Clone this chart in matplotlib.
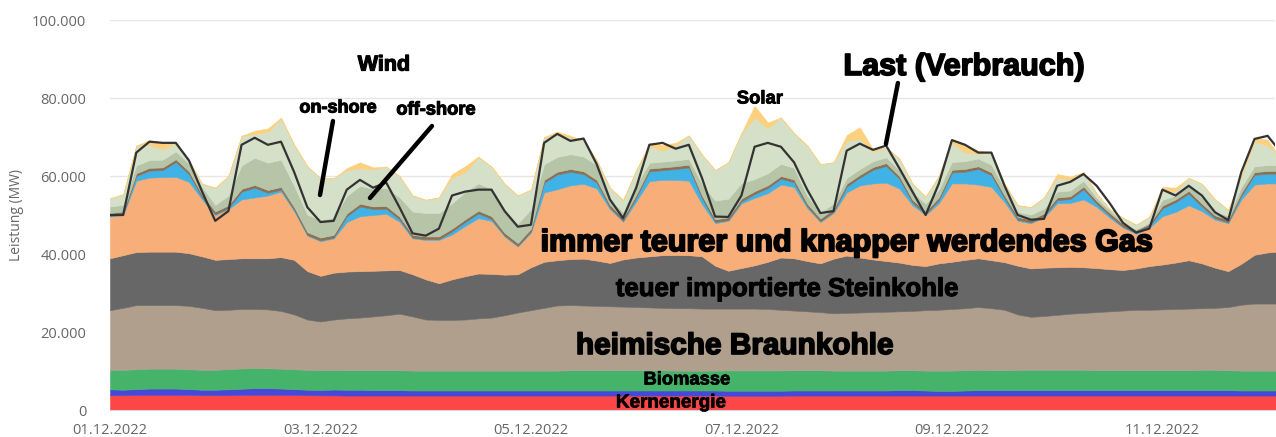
import numpy as np
import matplotlib
matplotlib.use("Agg")
import matplotlib.pyplot as plt
import matplotlib.patheffects as pe

# ---------------- data (3-hour samples) ----------------
stunden = list(range(0, 265, 3)) + [266]          # hours since 01.12.2022 00:00
datum_ticks = [0, 2, 4, 6, 8, 10]                   # days
datum_labels = ["01.12.2022", "03.12.2022", "05.12.2022",
                "07.12.2022", "09.12.2022", "11.12.2022"]
y_ticks = [0, 20000, 40000, 60000, 80000, 100000]
y_labels = ["0", "20.000", "40.000", "60.000", "80.000", "100.000"]

kernenergie = [3800, 3800, 3850, 3900, 3900, 3900, 3850, 3800, 3800, 3800,
               3850, 3900, 3900, 3900, 3850, 3800, 3750, 3750, 3700, 3700,
               3700, 3700, 3700, 3700, 3700, 3700, 3700, 3700, 3700, 3700,
               3700, 3700, 3700, 3700, 3700, 3700, 3700, 3700, 3700, 3700,
               3700, 3700, 3700, 3700, 3700, 3700, 3700, 3650, 3650, 3650,
               3650, 3650, 3700, 3700, 3700, 3700, 3700, 3700, 3700, 3700,
               3700, 3700, 3700, 3700, 3700, 3700, 3700, 3700, 3700, 3700,
               3700, 3700, 3700, 3700, 3700, 3700, 3700, 3700, 3700, 3700,
               3700, 3700, 3700, 3700, 3700, 3700, 3700, 3700, 3700, 3700]
laufwasser = [1500, 1400, 1500, 1600, 1600, 1600, 1500, 1400, 1400, 1500,
              1600, 1700, 1700, 1600, 1500, 1400, 1400, 1500, 1500, 1500,
              1400, 1400, 1400, 1300, 1300, 1300, 1300, 1300, 1300, 1300,
              1300, 1300, 1300, 1300, 1300, 1300, 1300, 1300, 1300, 1300,
              1300, 1300, 1300, 1300, 1300, 1300, 1300, 1300, 1300, 1300,
              1300, 1300, 1300, 1300, 1300, 1300, 1300, 1300, 1300, 1300,
              1400, 1400, 1300, 1200, 1200, 1300, 1400, 1400, 1400, 1400,
              1400, 1400, 1400, 1400, 1400, 1400, 1400, 1400, 1400, 1400,
              1400, 1400, 1400, 1400, 1400, 1400, 1300, 1300, 1300, 1300]
biomasse = [5000, 5100, 5100, 5100, 5100, 5100, 5100, 5100, 5100, 5200,
            5200, 5200, 5100, 5100, 5100, 5100, 5100, 5000, 5000, 5000,
            5100, 5100, 5100, 5100, 5100, 5100, 5100, 5100, 5100, 5100,
            5100, 5100, 5100, 5100, 5100, 5200, 5200, 5200, 5200, 5200,
            5200, 5200, 5200, 5100, 5100, 5100, 5100, 5200, 5200, 5200,
            5200, 5200, 5200, 5200, 5200, 5100, 5100, 5100, 5100, 5100,
            5100, 5100, 5100, 5200, 5200, 5200, 5200, 5100, 5100, 5200,
            5200, 5200, 5200, 5200, 5200, 5100, 5100, 5100, 5100, 5100,
            5100, 5100, 5100, 5200, 5200, 5100, 5100, 5100, 5100, 5100]
# upper edges of the big conventional blocks (cumulative levels)
braunkohle_oberkante = [25600, 26200, 26900, 26900, 26900, 26900, 26700, 26200, 25600, 25700,
                        25900, 25900, 25800, 25400, 24500, 23200, 22700, 23200, 23500, 23700,
                        24000, 24300, 24700, 24000, 23200, 23100, 23100, 23200, 23500, 23700,
                        24300, 25000, 25600, 26200, 26800, 26900, 26800, 26700, 26600, 26500,
                        26400, 26300, 26200, 26100, 26100, 26000, 26000, 26000, 26000, 26000,
                        25900, 25700, 25500, 25300, 25100, 24800, 24900, 25000, 25100, 25200,
                        25300, 25400, 25600, 25700, 25900, 26100, 26400, 26100, 25700, 24500,
                        23900, 24100, 24400, 24700, 24900, 25100, 25300, 25500, 25700, 25700,
                        25800, 25900, 26000, 26100, 26200, 26400, 27000, 27300, 27300, 27300]
steinkohle_oberkante = [38900, 39700, 40500, 40600, 40600, 40600, 40200, 39400, 38500, 38700,
                        38900, 38900, 38900, 39200, 38500, 35600, 34400, 35200, 35500, 35600,
                        35700, 35800, 35900, 34800, 33500, 32500, 33500, 34300, 35000, 34900,
                        34700, 34800, 36600, 38000, 38400, 38700, 38800, 38300, 37700, 38600,
                        39100, 39400, 39700, 39700, 39700, 39400, 37000, 35700, 36400, 37100,
                        38000, 39100, 38900, 38200, 37600, 38800, 39600, 39100, 38600, 38200,
                        37800, 37200, 36900, 37600, 38000, 38500, 38900, 38400, 37900, 37000,
                        36300, 36500, 36600, 36700, 36600, 36400, 36100, 35900, 36300, 36900,
                        37300, 37800, 38400, 37600, 36500, 35600, 37500, 39800, 40400, 40600]
erdgas_oberkante = [49600, 50000, 58800, 59600, 59700, 59800, 58500, 54000, 50000, 51500,
                    54000, 54500, 55000, 56000, 51000, 44700, 43300, 44000, 48200, 49700,
                    50000, 50300, 48300, 44000, 43600, 43600, 45000, 47200, 49200, 48500,
                    44500, 41900, 45500, 55800, 56600, 57600, 58000, 56800, 51500, 48300,
                    53500, 58700, 59000, 59000, 58800, 52800, 47900, 48500, 53000, 54400,
                    55600, 57800, 57200, 51800, 48200, 50500, 55800, 57600, 58100, 58300,
                    56800, 52500, 50000, 53000, 58100, 58100, 57800, 57200, 53300, 48500,
                    47900, 49400, 53000, 53100, 54000, 52100, 49300, 46800, 45200, 46700,
                    49700, 50800, 52500, 51000, 48800, 47900, 54000, 57800, 58100, 58100]
pumpspeicher = [200, 200, 1200, 1800, 1800, 3800, 2000, 500, 200, 300,
                2000, 2500, 700, 500, 300, 200, 200, 200, 1500, 2500,
                1500, 1300, 600, 200, 200, 200, 800, 1000, 1200, 500,
                200, 200, 300, 2500, 3800, 3500, 2500, 1500, 400, 200,
                1000, 2500, 2500, 2800, 3400, 1500, 300, 200, 500, 1000,
                1300, 1500, 1200, 400, 200, 300, 1500, 2000, 3500, 4300,
                2500, 700, 200, 800, 2800, 3000, 4000, 3000, 1000, 300,
                200, 300, 800, 1000, 2600, 800, 500, 200, 200, 300,
                2000, 2500, 3000, 1200, 400, 200, 1000, 2500, 2500, 2500]
sonstige = [700, 700, 700, 700, 700, 700, 700, 700, 700, 700,
            700, 700, 700, 700, 700, 700, 700, 700, 700, 700,
            700, 700, 700, 700, 700, 700, 700, 700, 700, 700,
            700, 700, 700, 700, 700, 700, 700, 700, 700, 700,
            700, 700, 700, 700, 700, 700, 700, 700, 700, 700,
            700, 700, 700, 700, 700, 700, 700, 700, 700, 700,
            700, 700, 700, 700, 700, 700, 700, 700, 700, 700,
            700, 700, 700, 700, 700, 700, 700, 700, 700, 700,
            700, 700, 700, 700, 700, 700, 700, 700, 700, 700]
wind_offshore = [1700, 1700, 2000, 2000, 2000, 2000, 2000, 2000, 1700, 2500,
                 6000, 7000, 7000, 7000, 5500, 4500, 4500, 4500, 4500, 4600,
                 4600, 4600, 5000, 6000, 6000, 6000, 6500, 7000, 7000, 7000,
                 6000, 5000, 5000, 4000, 3800, 3800, 3800, 3800, 1500, 1500,
                 2500, 1500, 1500, 1500, 1500, 3000, 4800, 4800, 4000, 3100,
                 3100, 3100, 3000, 2000, 1500, 1500, 1500, 1500, 1500, 1500,
                 1500, 2000, 2000, 2000, 2000, 2000, 2000, 2000, 1800, 1300,
                 1300, 1300, 1500, 1500, 1500, 800, 800, 300, 300, 300,
                 1500, 1000, 1500, 1500, 1000, 1000, 1500, 1500, 1500, 1500]
solar = [0, 0, 0, 1200, 1800, 300, 0, 0, 0, 0,
         0, 800, 900, 300, 0, 0, 0, 0, 500, 1500,
         500, 0, 0, 0, 0, 0, 1000, 1500, 300, 0,
         0, 0, 0, 0, 800, 400, 0, 0, 0, 0,
         0, 800, 1500, 600, 0, 0, 0, 0, 0, 3000,
         1500, 0, 0, 0, 0, 0, 1500, 3000, 600, 0,
         0, 0, 0, 0, 1000, 2000, 800, 0, 0, 0,
         0, 0, 1000, 800, 0, 0, 0, 0, 0, 0,
         800, 1000, 0, 0, 0, 0, 0, 1000, 1500, 0]
# top edge of the whole stack (incl. solar)
gesamt_erzeugung = [54300, 55300, 67800, 69200, 68600, 68700, 64000, 58000, 57000, 60000,
                    70300, 71600, 72200, 75000, 68000, 62500, 59400, 59400, 62000, 63500,
                    62200, 62400, 60000, 55000, 53900, 54500, 60500, 62500, 65000, 62400,
                    58000, 55000, 56500, 70000, 71400, 70300, 69200, 64000, 57000, 53800,
                    61500, 68400, 68000, 68500, 70400, 65500, 61500, 63500, 71000, 78000,
                    73700, 75000, 71000, 67800, 63000, 63500, 70500, 72500, 66800, 67300,
                    64500, 58000, 54700, 60000, 69500, 68000, 66500, 66000, 58000, 52500,
                    52000, 54500, 60500, 59800, 61000, 55500, 51500, 49300, 47500, 49500,
                    57200, 57000, 59500, 58000, 54000, 51300, 60000, 69800, 69300, 66000]
last = [50000, 50000, 66000, 68800, 68500, 68500, 64000, 56000, 48500, 51000,
        68000, 69800, 68000, 68800, 61000, 52000, 48200, 48500, 56500, 59000,
        57000, 58300, 52000, 45300, 44700, 46500, 55000, 56000, 56500, 56500,
        51000, 47000, 47500, 68500, 70800, 69000, 69600, 63000, 54000, 49200,
        57000, 68000, 68500, 67000, 68000, 59500, 49600, 49500, 55000, 67500,
        68500, 67500, 63500, 56500, 50500, 51000, 66500, 68300, 66700, 67800,
        62000, 56000, 50000, 58000, 69200, 68000, 66000, 66000, 57500, 50000,
        48800, 49000, 57500, 58500, 60500, 57500, 53000, 48000, 45500, 46500,
        56500, 55000, 57500, 55000, 50700, 48700, 61000, 69500, 70300, 67500]

# ---------------- derive layers ----------------
t = np.array(stunden) / 24.0
kern = np.array(kernenergie, float)
lauf = np.array(laufwasser, float)
bio = np.array(biomasse, float)
B = np.array(braunkohle_oberkante, float)
T = np.array(steinkohle_oberkante, float)
G = np.array(erdgas_oberkante, float)
P = np.array(pumpspeicher, float)
S = np.array(sonstige, float)
O = np.array(wind_offshore, float)
So = np.array(solar, float)
E = np.array(gesamt_erzeugung, float)

braun = B - kern - lauf - bio
stein = T - B
gas = G - T
onshore = np.clip(E - So - G - P - S - O, 0, None)

layers = [kern, lauf, bio, braun, stein, gas, P, S, O, onshore, So]
colors = ['#fd4646', '#4848d6', '#46b36b', '#b09f8c', '#676767', '#f8ae78',
          '#40b2e6', '#8d6f52', '#b6c4a8', '#d4e0c8', '#fdd07d']

# ---------------- figure ----------------
W, H = 1276, 437
fig = plt.figure(figsize=(W / 100, H / 100), dpi=100)
ax = fig.add_axes([110 / W, 27 / H, 1165 / W, 390 / H])

polys = ax.stackplot(t, *layers, colors=colors, linewidth=0)
for poly, c in zip(polys, colors):
    poly.set_edgecolor(c)
    poly.set_linewidth(0.4)
ax.plot(t, last, color='#333333', lw=1.6, zorder=5)

ax.set_xlim(0, 11.07)
ax.set_ylim(0, 100000)
ax.set_axisbelow(True)
ax.yaxis.grid(True, color='#e6e6e6', lw=1)
for s in ['top', 'right', 'left']:
    ax.spines[s].set_visible(False)
ax.spines['bottom'].set_color('#ccd6eb')

ax.set_yticks(y_ticks)
ax.set_yticklabels(y_labels)
ax.set_xticks(datum_ticks)
ax.set_xticklabels(datum_labels)
ax.tick_params(axis='both', length=0, labelsize=10.5, labelcolor='#666666')
ax.tick_params(axis='y', pad=17)
ax.tick_params(axis='x', pad=9)
for lab in ax.get_xticklabels() + ax.get_yticklabels():
    lab.set_fontfamily('Open Sans')

fig.text(17 / W, 1 - 215 / H, "Leistung (MW)", rotation=90, ha='center', va='center',
         fontsize=10, color='#666666', family='Open Sans')

# ---------------- annotations ----------------
def px2data(px, py):
    return ((px - 110) / 105.25, (410 - py) * 256.4)

notes = [  # text, center px x, center px y, target width px, base size, stroke width
    ("Wind", 384, 65, 52, 12, 0.9),
    ("on-shore", 338, 108, 77, 10, 0.8),
    ("off-shore", 436, 110, 79, 10, 0.8),
    ("Solar", 760, 99, 46, 10, 0.6),
    ("Last (Verbrauch)", 964, 67, 242, 17, 1.2),
    ("immer teurer und knapper werdendes Gas", 847, 243, 612, 19, 1.4),
    ("teuer importierte Steinkohle", 787, 289, 343, 14, 0.8),
    ("heimische Braunkohle", 735, 346, 318, 17, 1.2),
    ("Biomasse", 687, 380, 87, 11, 0.5),
    ("Kernenergie", 671, 403, 110, 11, 0.5),
]
texts = []
for s, px, py, wpx, fs, sw in notes:
    x, y = px2data(px, py)
    tx = ax.text(x, y, s, ha='center', va='center', fontsize=fs, fontweight='bold',
                 family='Liberation Sans', color='black', zorder=10,
                 path_effects=[pe.withStroke(linewidth=sw, foreground='black')])
    texts.append((tx, wpx))
fig.canvas.draw()
r = fig.canvas.get_renderer()
for tx, wpx in texts:
    w = tx.get_window_extent(r).width
    tx.set_fontsize(tx.get_fontsize() * wpx / w)

pointers = [((333, 121), (320, 195)),
            ((432, 126), (370, 198)),
            ((898, 83), (886, 144))]
for (a, b) in pointers:
    ax.annotate('', xy=px2data(*b), xytext=px2data(*a),
                arrowprops=dict(arrowstyle='-', lw=3.2, color='black',
                                shrinkA=0, shrinkB=0), zorder=10)

fig.savefig("out.png", dpi=100)
